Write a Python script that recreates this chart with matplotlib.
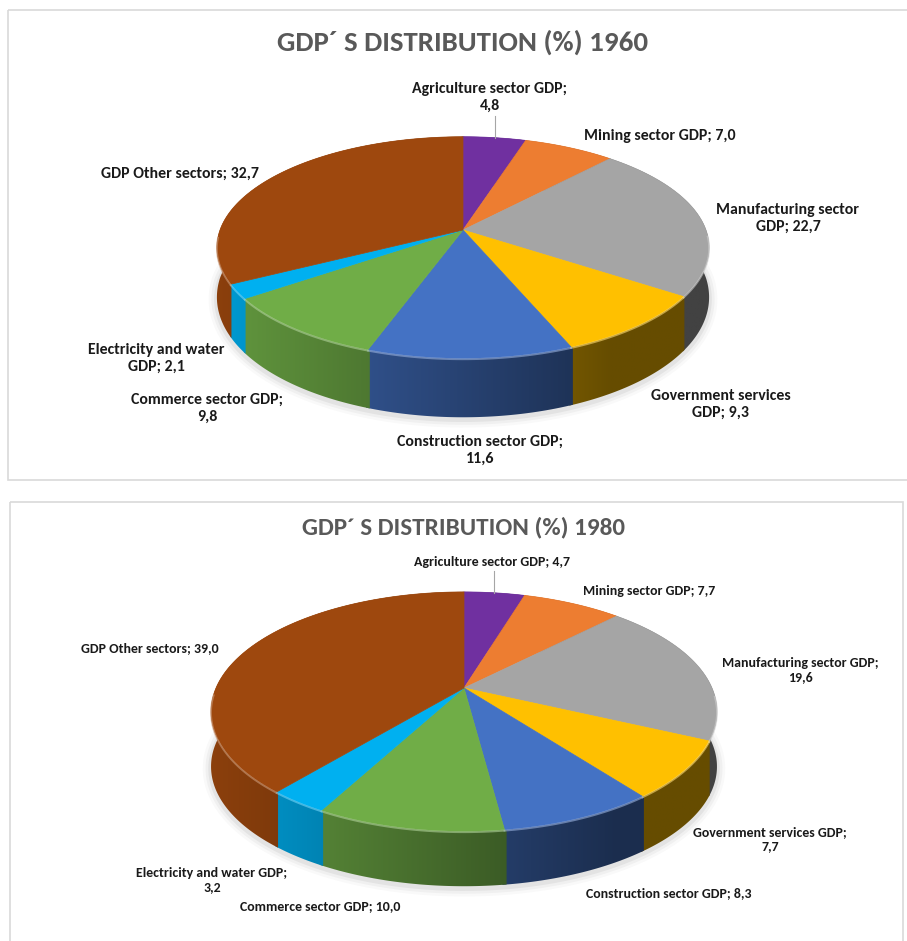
import textwrap
import numpy as np
import matplotlib
matplotlib.use("Agg")
import matplotlib.pyplot as plt
from matplotlib import font_manager
from matplotlib.patches import Polygon, Rectangle
from matplotlib.colors import to_rgb

# sectors, clockwise from 12 o'clock
sectors = ["Agriculture sector GDP", "Mining sector GDP", "Manufacturing sector GDP",
           "Government services GDP", "Construction sector GDP", "Commerce sector GDP",
           "Electricity and water GDP", "GDP Other sectors"]
colors = ["#7030A0", "#ED7D31", "#A5A5A5", "#FFC000", "#4472C4", "#70AD47", "#00B0F0", "#9E480E"]

share_1960 = [4.8, 7.0, 22.7, 9.3, 11.6, 9.8, 2.1, 32.7]
share_1980 = [4.7, 7.7, 19.6, 7.7, 8.3, 10.0, 3.2, 39.0]

title_1960 = "GDP´ S DISTRIBUTION (%) 1960"
title_1980 = "GDP´ S DISTRIBUTION (%) 1980"

# line wrap width of each data label
wrap_1960 = [23, 40, 20, 19, 24, 20, 21, 40]
wrap_1980 = [40, 40, 25, 24, 40, 40, 26, 40]

# label centres in pixels
pos_1960 = [(490, 97), (660, 136), (788, 218), (721, 404), (480, 450), (207, 408), (156, 358), (180, 174)]
pos_1980 = [(492, 562), (649, 591), (800, 670), (770, 839), (669, 893), (320, 906), (212, 880), (150, 648)]


def pick_font(names):
    for name in names:
        try:
            font_manager.findfont(font_manager.FontProperties(family=name), fallback_to_default=False)
            return name
        except ValueError:
            pass
    return "DejaVu Sans"


FONT = pick_font(["Carlito", "Liberation Sans Narrow", "Roboto Condensed", "Open Sans Condensed",
                  "DejaVu Sans Condensed", "Lato", "Roboto"])

W_PX, H_PX = 907, 941
fig = plt.figure(figsize=(W_PX / 100, H_PX / 100), dpi=100)
ax = fig.add_axes([0, 0, 1, 1])
ax.axis("off")
fig.canvas.draw()
renderer = fig.canvas.get_renderer()


def fit_size(s, width):
    t = ax.text(0, 0, s, fontsize=10, fontweight="bold", family=FONT)
    w = t.get_window_extent(renderer=renderer).width
    t.remove()
    return 10 * width / w


# chart frames
ax.add_patch(Rectangle((8, 10), 910, 470, fill=False, ec="#D9D9D9", lw=1.2))
ax.add_patch(Rectangle((10, 502), 893, 450, fill=False, ec="#D9D9D9", lw=1.2))


def draw_pie(values, cx, cy, W, H, k, t_side, t_front):
    total = sum(values)
    edges = np.concatenate([[0], np.cumsum(values)]) / total * 2 * np.pi
    half_w = W / np.sqrt(1 - k * k)

    def rim(th):
        d = -np.cos(th)
        f = 1 / (1 - k * d)
        return cx + W * np.sin(th) * f, cy + H * d * f

    def depth(th):
        return t_side + (t_front - t_side) * np.clip(-np.cos(th), 0, None)

    # soft shadow under the front edge
    th = np.linspace(np.radians(70), np.radians(290), 200)
    x, y = rim(th)
    yb = y + depth(th) + 2
    for lw, a in [(12, 0.025), (8, 0.035), (4, 0.05)]:
        ax.plot(x, yb, color="k", lw=lw, alpha=a, solid_capstyle="round", zorder=1)

    # side wall: each slice filled with a left-to-right shading gradient
    xs = np.linspace(cx - half_w - 4, cx + half_w + 4, 300)
    shade = np.clip(0.58 - 0.3 * (xs - cx) / half_w, 0.40, 1)
    y_top = cy - H / (1 + k) - 2
    y_bot = cy + H / (1 - k) + t_front + 2
    pad = np.radians(0.4)
    for i, (a0, a1) in enumerate(zip(edges[:-1], edges[1:])):
        th = np.linspace(a0 - pad, a1 + pad, max(int(np.degrees(a1 - a0)), 2) * 2 + 1)
        x, y = rim(th)
        h = depth(th)
        pts = np.column_stack([np.r_[x, x[::-1]], np.r_[y, (y + h)[::-1]]])
        clip = Polygon(pts, closed=True, fc="none", ec="none", transform=ax.transData)
        ax.add_patch(clip)
        grad = np.clip(np.array(to_rgb(colors[i]))[None, None, :] * shade[None, :, None], 0, 1)
        im = ax.imshow(grad, extent=(xs[0], xs[-1], y_bot, y_top), aspect="auto",
                       interpolation="bilinear", zorder=2)
        im.set_clip_path(clip)

    # top faces
    for i, (a0, a1) in enumerate(zip(edges[:-1], edges[1:])):
        th = np.linspace(a0, a1, max(int(np.degrees(a1 - a0)), 2) + 1)
        x, y = rim(th)
        pts = np.column_stack([np.r_[cx, x], np.r_[cy, y]])
        ax.add_patch(Polygon(pts, closed=True, fc=colors[i], ec=colors[i], lw=0.5, zorder=3))
        # bevel highlight on the front rim
        front = -np.cos(th) > 0.05
        if front.sum() > 1:
            light = 0.55 * np.array(to_rgb(colors[i])) + 0.45
            ax.plot(x[front], y[front] + 1, color=light, lw=1.3, alpha=0.6, zorder=4)

    mid = 0.5 * (edges[0] + edges[1])
    return rim(mid)


def draw_labels(values, wraps, positions, size):
    for name, v, w, (x, y) in zip(sectors, values, wraps, positions):
        s = textwrap.fill(f"{name}; {v:.1f}".replace(".", ","), w)
        ax.text(x, y, s, ha="center", va="center", multialignment="center",
                fontsize=size, fontweight="bold", family=FONT, color="#1A1A1A",
                linespacing=1.25, zorder=5)


# 1960
size_title = fit_size(title_1960, 371)
ax.text(463, 42, title_1960, ha="center", va="center", fontsize=size_title,
        fontweight="bold", family=FONT, color="#595959")
lx, ly = draw_pie(share_1960, 463, 230, 243, 108, 0.158, 48, 59)
ax.plot([lx, lx], [116, ly], color="#A6A6A6", lw=0.8, zorder=4)
draw_labels(share_1960, wrap_1960, pos_1960, fit_size("Agriculture sector GDP;", 155))

# 1980
size_title = fit_size(title_1980, 324)
ax.text(463, 527, title_1980, ha="center", va="center", fontsize=size_title,
        fontweight="bold", family=FONT, color="#595959")
lx, ly = draw_pie(share_1980, 464, 688, 248, 115, 0.197, 55, 55)
ax.plot([lx, lx], [571, ly], color="#A6A6A6", lw=0.8, zorder=4)
draw_labels(share_1980, wrap_1980, pos_1980, fit_size("Agriculture sector GDP; 4,7", 156))

# pixel coordinates, y pointing down
ax.set_xlim(0, W_PX)
ax.set_ylim(H_PX, 0)

fig.savefig("out.png", dpi=100)
